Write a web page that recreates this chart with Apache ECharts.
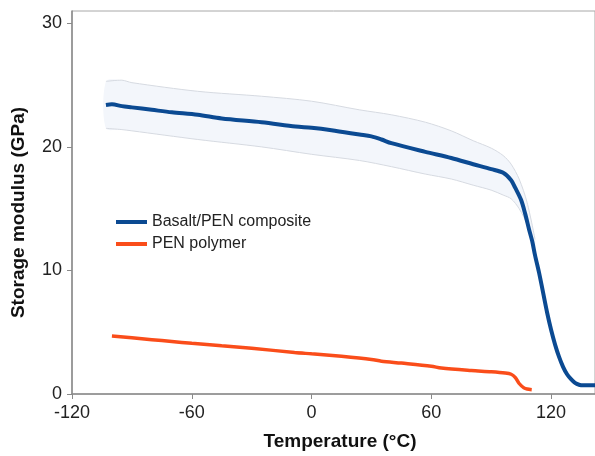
<!DOCTYPE html>
<html>
<head>
<meta charset="utf-8">
<script src="https://cdn.jsdelivr.net/npm/echarts@6/dist/echarts.min.js"></script>
<style>
html,body{margin:0;padding:0;background:#fff;}
#chart{width:595px;height:456px;}
</style>
</head>
<body>
<div id="chart"></div>
<script>
// Basalt/PEN composite: mean storage modulus (GPa) vs temperature (°C)
var compT = [-103,-100,-95,-90,-80,-70,-57,-45,-25,-8,0,10,24,30,35,40,57,70,81,90,96,100,102,105,107,109,110.5,112,114,116,118,120,122,124,126,128,130,132,134,136,138,140,142];
var compV = [23.4,23.45,23.3,23.2,23.0,22.8,22.6,22.3,22.0,21.65,21.55,21.35,21.0,20.85,20.6,20.3,19.6,19.1,18.6,18.2,17.9,17.3,16.7,15.7,14.6,13.3,12.4,11.2,9.8,8.2,6.6,5.2,4.0,3.0,2.2,1.6,1.2,0.9,0.75,0.7,0.7,0.7,0.7];

// scatter band of the composite
var bandT = [-103,-95,-90,-57,-25,0,24,40,57,70,81,90,96,100,104,108,112];
var bandUpper = [25.3,25.4,25.2,24.5,24.1,23.7,23.0,22.6,22.0,21.3,20.5,19.9,19.3,18.6,17.4,15.5,12.5];
var bandLower = [21.5,21.4,21.3,20.6,20.0,19.4,18.9,18.4,17.8,17.4,16.9,16.5,16.1,15.8,15.0,13.7,11.0];

// PEN polymer
var penT = [-100,-90,-80,-70,-60,-45,-30,-8.5,0,15,30,35,45,60,65,80,90,97,100,102,104,106.4,108,110.3];
var penV = [4.7,4.55,4.4,4.25,4.1,3.9,3.7,3.36,3.25,3.05,2.8,2.65,2.5,2.25,2.1,1.9,1.8,1.7,1.6,1.35,0.85,0.5,0.4,0.35];

var xTicks = [-120,-60,0,60,120];
var yTicks = [0,10,20,30];

function pairs(xs, ys){ return xs.map(function(x,i){ return [x, ys[i]]; }); }

var font = 'Liberation Sans, Arial, sans-serif';
var chart = echarts.init(document.getElementById('chart'));
chart.setOption({
    animation: false,
    grid: {
        left: 72,
        right: -13,
        top: 11,
        bottom: 58,
        show: true,
        borderColor: '#a8a8a8',
        borderWidth: 1
    },
    legend: {
        data: ['Basalt/PEN composite', 'PEN polymer'],
        orient: 'vertical',
        left: 111,
        top: 209,
        itemWidth: 31,
        itemHeight: 4,
        itemGap: 6,
        icon: 'rect',
        textStyle: { fontFamily: font, fontSize: 16, color: '#222', lineHeight: 16 }
    },
    xAxis: {
        type: 'value',
        min: -120,
        max: 142,
        interval: 60,
        name: 'Temperature (°C)',
        nameLocation: 'middle',
        nameGap: 38,
        nameTextStyle: { fontFamily: font, fontSize: 19, fontWeight: 'bold', color: '#111', padding: [0, 0, 0, 13] },
        axisLine: { onZero: false, lineStyle: { color: '#8a8a8a', width: 1.5 } },
        axisTick: { show: true, length: 5, lineStyle: { color: '#8a8a8a' }, customValues: xTicks },
        axisLabel: { fontFamily: font, fontSize: 18, color: '#222', margin: 10, customValues: xTicks },
        splitLine: { show: false }
    },
    yAxis: {
        type: 'value',
        min: 0,
        max: 31,
        interval: 10,
        name: 'Storage modulus (GPa)',
        nameLocation: 'middle',
        nameGap: 44,
        nameTextStyle: { fontFamily: font, fontSize: 19, fontWeight: 'bold', color: '#111', padding: [0, 20, 0, 0] },
        axisLine: { show: true, onZero: false, lineStyle: { color: '#8a8a8a', width: 1.5 } },
        axisTick: { show: true, length: 5, lineStyle: { color: '#8a8a8a' }, customValues: yTicks },
        axisLabel: { fontFamily: font, fontSize: 18, color: '#222', margin: 10, customValues: yTicks },
        splitLine: { show: false }
    },
    series: [
        {
            name: 'band',
            type: 'custom',
            data: pairs(bandT, bandUpper),
            silent: true,
            z: 1,
            renderItem: function (params, api) {
                if (params.dataIndex !== 0) return;
                var top = bandT.map(function (t, i) { return api.coord([t, bandUpper[i]]); });
                var bot = bandT.map(function (t, i) { return api.coord([t, bandLower[i]]); }).reverse();
                return {
                    type: 'group',
                    children: [
                        { type: 'polygon', shape: { points: top.concat(bot), smooth: 0.3 },
                          style: { fill: '#f3f6fb', stroke: null } },
                        { type: 'polyline', shape: { points: top, smooth: 0.3 },
                          style: { stroke: '#d6dae1', lineWidth: 1, fill: null } },
                        { type: 'polyline', shape: { points: bot, smooth: 0.3 },
                          style: { stroke: '#d6dae1', lineWidth: 1, fill: null } }
                    ]
                };
            }
        },
        {
            name: 'Basalt/PEN composite',
            type: 'line',
            symbol: 'none',
            smooth: 0.3,
            data: pairs(compT, compV),
            lineStyle: { color: '#0b4a92', width: 4 },
            itemStyle: { color: '#0b4a92' },
            z: 3
        },
        {
            name: 'PEN polymer',
            type: 'line',
            symbol: 'none',
            smooth: 0.3,
            data: pairs(penT, penV),
            lineStyle: { color: '#fa4d1a', width: 3.5 },
            itemStyle: { color: '#fa4d1a' },
            z: 3
        }
    ]
});
</script>
</body>
</html>
